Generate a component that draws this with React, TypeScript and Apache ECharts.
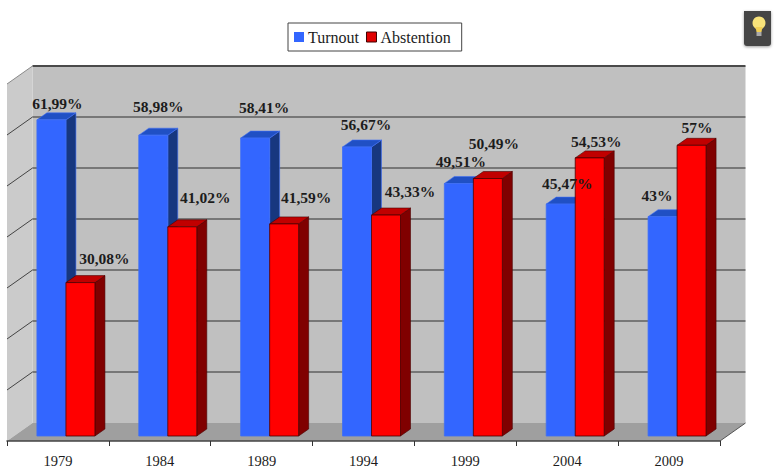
import React, { useEffect, useRef } from "react";
import * as echarts from "echarts";

const years = ["1979", "1984", "1989", "1994", "1999", "2004", "2009"];
const turnout = [61.99, 58.98, 58.41, 56.67, 49.51, 45.47, 43];
const abstention = [30.08, 41.02, 41.59, 43.33, 50.49, 54.53, 57];
const turnoutLabels = ["61,99%", "58,98%", "58,41%", "56,67%", "49,51%", "45,47%", "43%"];
const abstentionLabels = ["30,08%", "41,02%", "41,59%", "43,33%", "50,49%", "54,53%", "57%"];
const gridValues = [0, 10, 20, 30, 40, 50, 60, 70];

// hand-placed label offsets in the original (relative to each bar's front top centre)
const turnoutOffsets = [[6, -16], [5, -29], [9, -31], [9, -22], [2, -21.5], [6.5, -21], [-5.5, -21]];
const abstentionOffsets = [[24, -24], [23, -29], [22, -26], [24, -24], [6, -35], [6.5, -16], [5.5, -18]];

const DEPTH_X = 25.5;
const DEPTH_Y = 18;
const BAR_SHIFT_X = 8;
const BAR_SHIFT_Y = 5;
const BAR_W = 29;
const SIDE_X = 10;
const SIDE_Y = 7;
const FONT = '"Liberation Serif", serif';

function wallsItem(params: any, api: any) {
  const cs = params.coordSys;
  const x0 = cs.x;
  const x1 = cs.x + cs.width;
  const yb = cs.y + cs.height;
  const yt = cs.y;
  const children: any[] = [
    { type: "polygon", shape: { points: [[x0 + DEPTH_X, yt - DEPTH_Y], [x1 + DEPTH_X, yt - DEPTH_Y], [x1 + DEPTH_X, yb - DEPTH_Y], [x0 + DEPTH_X, yb - DEPTH_Y]] }, style: { fill: "#c0c0c0" } },
    { type: "polygon", shape: { points: [[x0, yt], [x0 + DEPTH_X, yt - DEPTH_Y], [x0 + DEPTH_X, yb - DEPTH_Y], [x0, yb]] }, style: { fill: "#cbcbcb" } },
    { type: "polygon", shape: { points: [[x0, yb], [x0 + DEPTH_X, yb - DEPTH_Y], [x1 + DEPTH_X, yb - DEPTH_Y], [x1, yb]] }, style: { fill: "#9f9f9f" } },
  ];
  gridValues.forEach((v) => {
    const y = api.coord([0, v])[1];
    const top = v === gridValues[gridValues.length - 1];
    if (v !== 0) {
      children.push({
        type: "line",
        shape: { x1: x0 + DEPTH_X, y1: y - DEPTH_Y, x2: x1 + DEPTH_X, y2: y - DEPTH_Y },
        style: { stroke: top ? "#4a4a4a" : "#2f2f2f", lineWidth: top ? 2 : 1 },
      });
      children.push({
        type: "line",
        shape: { x1: x0, y1: y, x2: x0 + DEPTH_X, y2: y - DEPTH_Y },
        style: { stroke: top ? "#8a8a8a" : "#444444", lineWidth: 1 },
      });
    } else {
      children.push({
        type: "line",
        shape: { x1, y1: yb, x2: x1 + DEPTH_X, y2: yb - DEPTH_Y },
        style: { stroke: "#555555", lineWidth: 1 },
      });
    }
  });
  return { type: "group", children };
}

function barRect(side: -1 | 1, api: any) {
  const top = api.coord([api.value(0), api.value(1)]);
  const base = api.coord([api.value(0), 0]);
  const left = top[0] + BAR_SHIFT_X + (side < 0 ? -BAR_W : 0);
  return { left, right: left + BAR_W, yT: top[1] - BAR_SHIFT_Y, yB: base[1] - BAR_SHIFT_Y };
}

function barItem(side: -1 | 1, colors: { front: string; top: string; side: string; edge: string }) {
  return (_params: any, api: any) => {
    const { left, right, yT, yB } = barRect(side, api);
    return {
      type: "group",
      children: [
        { type: "polygon", shape: { points: [[right, yT], [right + SIDE_X, yT - SIDE_Y], [right + SIDE_X, yB - SIDE_Y], [right, yB]] }, style: { fill: colors.side, stroke: colors.edge, lineWidth: 0.6 } },
        { type: "polygon", shape: { points: [[left, yT], [left + SIDE_X, yT - SIDE_Y], [right + SIDE_X, yT - SIDE_Y], [right, yT]] }, style: { fill: colors.top, stroke: colors.edge, lineWidth: 0.6 } },
        { type: "rect", shape: { x: left, y: yT, width: BAR_W, height: yB - yT }, style: { fill: colors.front, stroke: colors.edge, lineWidth: 0.8 } },
      ],
    };
  };
}

function labelItem(side: -1 | 1, labels: string[], offsets: number[][]) {
  return (params: any, api: any) => {
    const { left, right, yT } = barRect(side, api);
    const [dx, dy] = offsets[params.dataIndex];
    return {
      type: "text",
      x: (left + right) / 2 + dx,
      y: yT + dy,
      style: { text: labels[params.dataIndex], font: `bold 15.5px ${FONT}`, fill: "#1c1c1c", align: "center", verticalAlign: "middle" },
    };
  };
}

const blue = { front: "#3366ff", top: "#2050c4", side: "#17377f", edge: "#3f6ff5" };
const red = { front: "#ff0000", top: "#c00000", side: "#800000", edge: "#4a0000" };

export default function App() {
  const ref = useRef<HTMLDivElement>(null);
  useEffect(() => {
    const chart = echarts.init(ref.current!, undefined, { renderer: "svg" });
    const turnoutData = turnout.map((v, i) => [i, v]);
    const abstentionData = abstention.map((v, i) => [i, v]);
    chart.setOption({
      animation: false,
      backgroundColor: "#ffffff",
      grid: { left: 7, top: 84, width: 713, height: 357 },
      legend: {
        left: 288,
        top: 23,
        data: [
          { name: "Turnout", itemStyle: { color: blue.front } },
          { name: "Abstention", itemStyle: { color: "#e00000", borderColor: "#400000", borderWidth: 1 } },
        ],
        icon: "rect",
        itemWidth: 10,
        itemHeight: 10,
        itemGap: 7,
        padding: [6, 11, 6, 6],
        borderColor: "#444444",
        borderWidth: 1,
        textStyle: { fontFamily: FONT, fontSize: 16, color: "#1c1c1c", padding: [0, 0, 0, -1] },
      },
      xAxis: {
        type: "category",
        data: years,
        axisLine: { lineStyle: { color: "#444444", width: 1.5 } },
        axisTick: { show: true, alignWithLabel: false, length: 5, lineStyle: { color: "#333333", width: 1 } },
        axisLabel: { fontFamily: FONT, fontSize: 14.5, color: "#1c1c1c", margin: 12 },
        z: 20,
      },
      yAxis: { type: "value", min: 0, max: 70, interval: 10, show: false },
      series: [
        { type: "custom", name: "walls", silent: true, data: [[0, 0]], renderItem: wallsItem, z: 1, clip: false },
        { type: "custom", name: "Turnout", data: turnoutData, encode: { x: 0, y: 1 }, renderItem: barItem(-1, blue), itemStyle: { color: blue.front }, z: 2, clip: false },
        { type: "custom", name: "Abstention", data: abstentionData, encode: { x: 0, y: 1 }, renderItem: barItem(1, red), itemStyle: { color: red.front }, z: 3, clip: false },
        { type: "custom", name: "Turnout labels", data: turnoutData, encode: { x: 0, y: 1 }, renderItem: labelItem(-1, turnoutLabels, turnoutOffsets), z: 4, clip: false, silent: true },
        { type: "custom", name: "Abstention labels", data: abstentionData, encode: { x: 0, y: 1 }, renderItem: labelItem(1, abstentionLabels, abstentionOffsets), z: 4, clip: false, silent: true },
      ],
      graphic: [
        {
          type: "group",
          z: 100,
          children: [
            { type: "rect", shape: { x: 744, y: 11, width: 27, height: 35, r: [0, 0, 3, 3] }, style: { fill: "#454545", shadowBlur: 3, shadowColor: "rgba(0,0,0,0.4)", shadowOffsetY: 1 } },
            { type: "circle", shape: { cx: 759, cy: 23, r: 6.5 }, style: { fill: "#f7e27a" } },
            { type: "polygon", shape: { points: [[755.5, 27], [762.5, 27], [761.5, 32], [756.5, 32]] }, style: { fill: "#f0cf55" } },
            { type: "rect", shape: { x: 756.5, y: 32, width: 5, height: 4 }, style: { fill: "#a9a9a9" } },
          ],
        },
      ],
    });
    return () => chart.dispose();
  }, []);
  return <div ref={ref} style={{ position: "fixed", left: 0, top: 0, width: 775, height: 471 }} />;
}
